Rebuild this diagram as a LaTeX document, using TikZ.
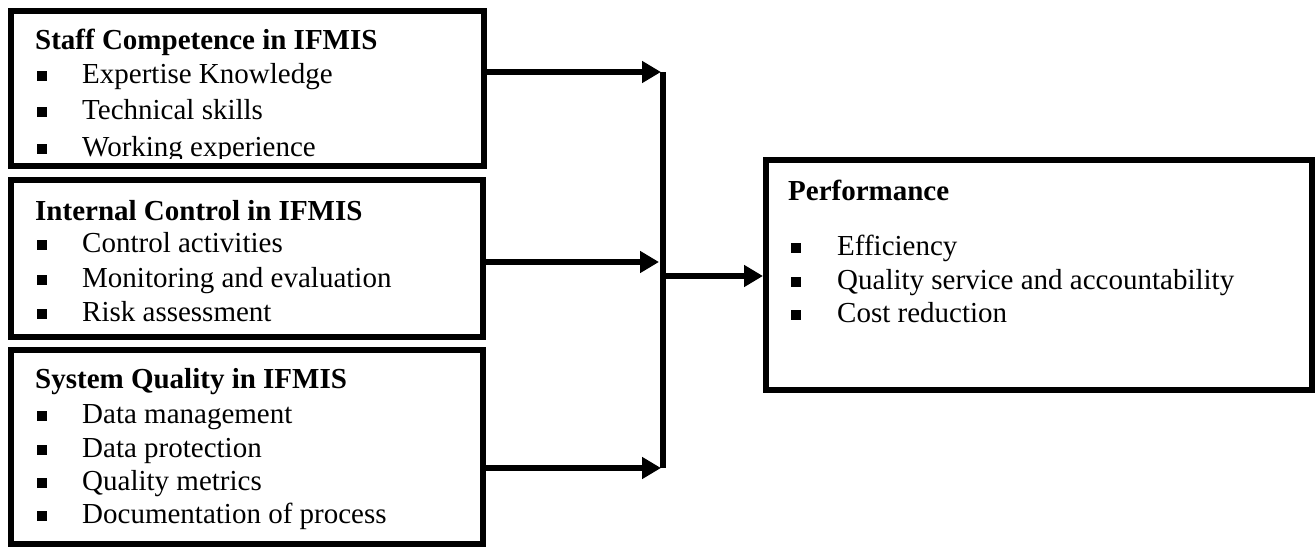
\documentclass[tikz,border=0pt]{standalone}
\usepackage{fontspec}
\setmainfont{Liberation Serif}
\usetikzlibrary{arrows.meta}
\begin{document}
\begin{tikzpicture}[x=1pt,y=-1pt,
  box/.style={draw, line width=6pt, rectangle, inner sep=0pt},
  conn/.style={line width=6pt},
  arr/.style={conn, -{Triangle[length=19pt 0,width=21pt 0]}},
  ttl/.style={anchor=base west, font=\fontsize{29}{34}\selectfont\bfseries, inner sep=0pt},
  itm/.style={anchor=base west, font=\fontsize{29}{34}\selectfont, inner sep=0pt},
  bul/.style={fill, rectangle, minimum size=10pt, inner sep=0pt}]
\useasboundingbox (0,0) rectangle (1315,547);
% boxes
\node[box, minimum width=473pt, minimum height=155pt] (b1) at (247.5,88.5) {};
\node[box, minimum width=472pt, minimum height=157pt] (b2) at (247,258.5) {};
\node[box, minimum width=472pt, minimum height=194pt] (b3) at (247,447) {};
\node[box, minimum width=546pt, minimum height=230pt] (perf) at (1039,274.5) {};
% box 1 text (clipped at the bottom)
\begin{scope}
\clip (14,14) rectangle (481,158);
\node[ttl] (t1) at (35,49) {Staff Competence in IFMIS};
\foreach \y/\t [count=\i] in {83/Expertise Knowledge,119/Technical skills,156/Working experience}{
  \node[bul] (b1u\i) at (42,\y-7) {};
  \node[itm] (b1i\i) at (82,\y) {\t};
}
\end{scope}
% box 2 text
\node[ttl] (t2) at (35,220) {Internal Control in IFMIS};
\foreach \y/\t [count=\i] in {252/Control activities,287/Monitoring and evaluation,321/Risk assessment}{
  \node[bul] (b2u\i) at (42,\y-7) {};
  \node[itm] (b2i\i) at (82,\y) {\t};
}
% box 3 text
\node[ttl] (t3) at (35,388) {System Quality in IFMIS};
\foreach \y/\t [count=\i] in {423/Data management,457/Data protection,490/Quality metrics,523/Documentation of process}{
  \node[bul] (b3u\i) at (42,\y-7) {};
  \node[itm] (b3i\i) at (82,\y) {\t};
}
% performance text
\node[ttl] (t4) at (788,200) {Performance};
\foreach \y/\t [count=\i] in {255/Efficiency,289/Quality service and accountability,322/Cost reduction}{
  \node[bul] (pu\i) at (796,\y-7) {};
  \node[itm] (pi\i) at (837,\y) {\t};
}
% connectors
\coordinate (j1) at (661,72);
\coordinate (j2) at (659,262);
\coordinate (j3) at (661,468);
\coordinate (bt) at (662.5,72);
\coordinate (bb) at (662.5,468);
\coordinate (bo) at (662.5,276);
\draw[arr] (b1.east |- j1) -- (j1);
\draw[arr] (b2.east |- j2) -- (j2);
\draw[arr] (b3.east |- j3) -- (j3);
\draw[conn] (bt) -- (bb);
\draw[arr] (bo) -- (perf.west |- bo);
\end{tikzpicture}
\end{document}
